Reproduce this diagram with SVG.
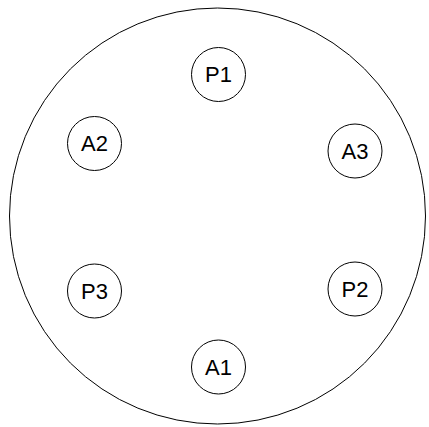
<svg xmlns="http://www.w3.org/2000/svg" width="429" height="427" viewBox="0 0 429 427">
<style>
.c{fill:none;stroke:#000;stroke-width:1}
.t{font-family:"Liberation Sans",Arial,sans-serif;font-size:22px;fill:#000;text-anchor:middle;dominant-baseline:central}
</style>
<rect width="429" height="427" fill="#fff"/>
<g id="outer"><circle class="c" cx="217.5" cy="216" r="208"/></g>
<g id="P1"><circle class="c" cx="218.5" cy="74.5" r="27"/><text class="t" x="218.5" y="74.5">P1</text></g>
<g id="A2"><circle class="c" cx="94.5" cy="143.5" r="27"/><text class="t" x="94.5" y="143.5">A2</text></g>
<g id="A3"><circle class="c" cx="355" cy="151" r="27"/><text class="t" x="355" y="151">A3</text></g>
<g id="P3"><circle class="c" cx="94.5" cy="291" r="27"/><text class="t" x="94.5" y="291">P3</text></g>
<g id="P2"><circle class="c" cx="355" cy="289" r="27"/><text class="t" x="355" y="289">P2</text></g>
<g id="A1"><circle class="c" cx="218.5" cy="367" r="27"/><text class="t" x="218.5" y="367">A1</text></g>
<g id="connectors"></g>
</svg>
